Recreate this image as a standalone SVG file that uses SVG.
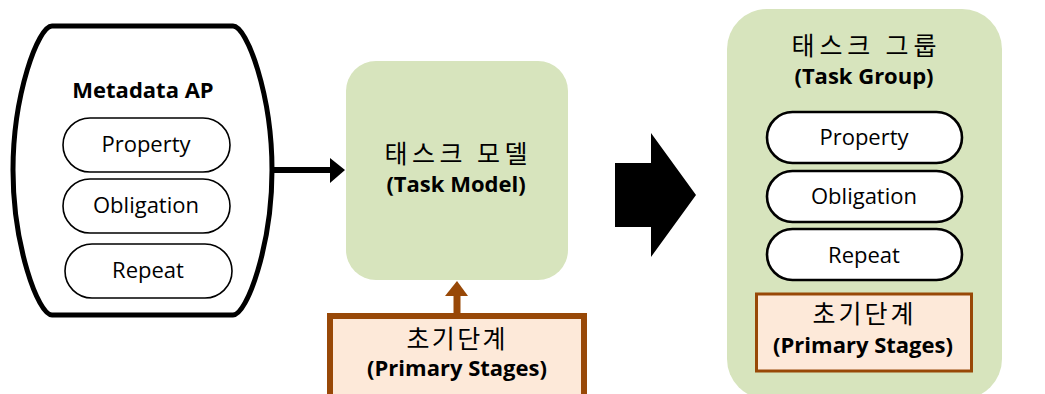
<svg xmlns="http://www.w3.org/2000/svg" width="1045" height="394" viewBox="0 0 1045 394">
<style>
.lat{font-family:"Open Sans","Liberation Sans",sans-serif;fill:#000;text-anchor:middle;font-size:22px}
.b{font-weight:bold}
.ko{font-family:"Noto Sans CJK KR","Noto Sans",sans-serif;fill:#000;text-anchor:middle;font-size:25px}
.pillL{fill:#fff;stroke:#000;stroke-width:1.6}
.pillR{fill:#fff;stroke:#000;stroke-width:2.6}
.green{fill:#d7e4bd}
.stage{fill:#fde9d9;stroke:#984807}
</style>
<rect width="1045" height="394" fill="#fff"/>
<g id="metadata-ap">
<path d="M52 26 L233 26 C247 26 272 95 272 170 C272 245 247 315 233 315 L52 315 C38 315 13 245 13 170 C13 95 38 26 52 26 Z" fill="#fff" stroke="#000" stroke-width="5"/>
<text class="lat b" x="143" y="98">Metadata AP</text>
</g>
<g id="l-property">
<rect class="pillL" x="63" y="118" width="167" height="54" rx="27"/>
<text class="lat" x="146" y="152">Property</text>
</g>
<g id="l-obligation">
<rect class="pillL" x="63" y="179" width="167" height="54" rx="27"/>
<text class="lat" x="146" y="213">Obligation</text>
</g>
<g id="l-repeat">
<rect class="pillL" x="65" y="244" width="167" height="54" rx="27"/>
<text class="lat" x="148" y="278">Repeat</text>
</g>
<g id="task-model">
<rect class="green" x="346" y="61" width="222" height="219" rx="30"/>
<text class="ko" x="456" y="163" textLength="143" lengthAdjust="spacing">태스크 모델</text>
<text class="lat b" x="456" y="192" font-size="22.5">(Task Model)</text>
</g>
<g id="primary-stages">
<rect class="stage" x="330" y="316" width="254" height="84" stroke-width="6"/>
<text class="ko" x="456" y="348" textLength="99" lengthAdjust="spacing">초기단계</text>
<text class="lat b" x="457" y="376">(Primary Stages)</text>
</g>
<g id="task-group">
<rect class="green" x="727" y="9" width="275" height="390" rx="40"/>
<text class="ko" x="864" y="55" textLength="145" lengthAdjust="spacing">태스크 그룹</text>
<text class="lat b" x="864" y="84" font-size="21.5">(Task Group)</text>
</g>
<g id="r-property">
<rect class="pillR" x="767" y="112" width="195" height="51" rx="25.5"/>
<text class="lat" x="864" y="145">Property</text>
</g>
<g id="r-obligation">
<rect class="pillR" x="767" y="171" width="195" height="51" rx="25.5"/>
<text class="lat" x="864" y="204">Obligation</text>
</g>
<g id="r-repeat">
<rect class="pillR" x="767" y="229" width="195" height="51" rx="25.5"/>
<text class="lat" x="864" y="263">Repeat</text>
</g>
<g id="r-primary-stages">
<rect class="stage" x="756.5" y="294" width="215" height="77" stroke-width="3"/>
<text class="ko" x="863" y="323" textLength="101" lengthAdjust="spacing">초기단계</text>
<text class="lat b" x="863" y="353">(Primary Stages)</text>
</g>
<g id="connectors">
<line x1="272" y1="170" x2="331" y2="170" stroke="#000" stroke-width="6"/>
<polygon points="330,158 345,170 330,183" fill="#000"/>
<line x1="457" y1="313" x2="457" y2="295" stroke="#984807" stroke-width="7"/>
<polygon points="445,296 457,281 468,296" fill="#984807"/>
<polygon points="615,163 651,163 651,133 696,195 651,257 651,227 615,227" fill="#000"/>
</g>
</svg>
